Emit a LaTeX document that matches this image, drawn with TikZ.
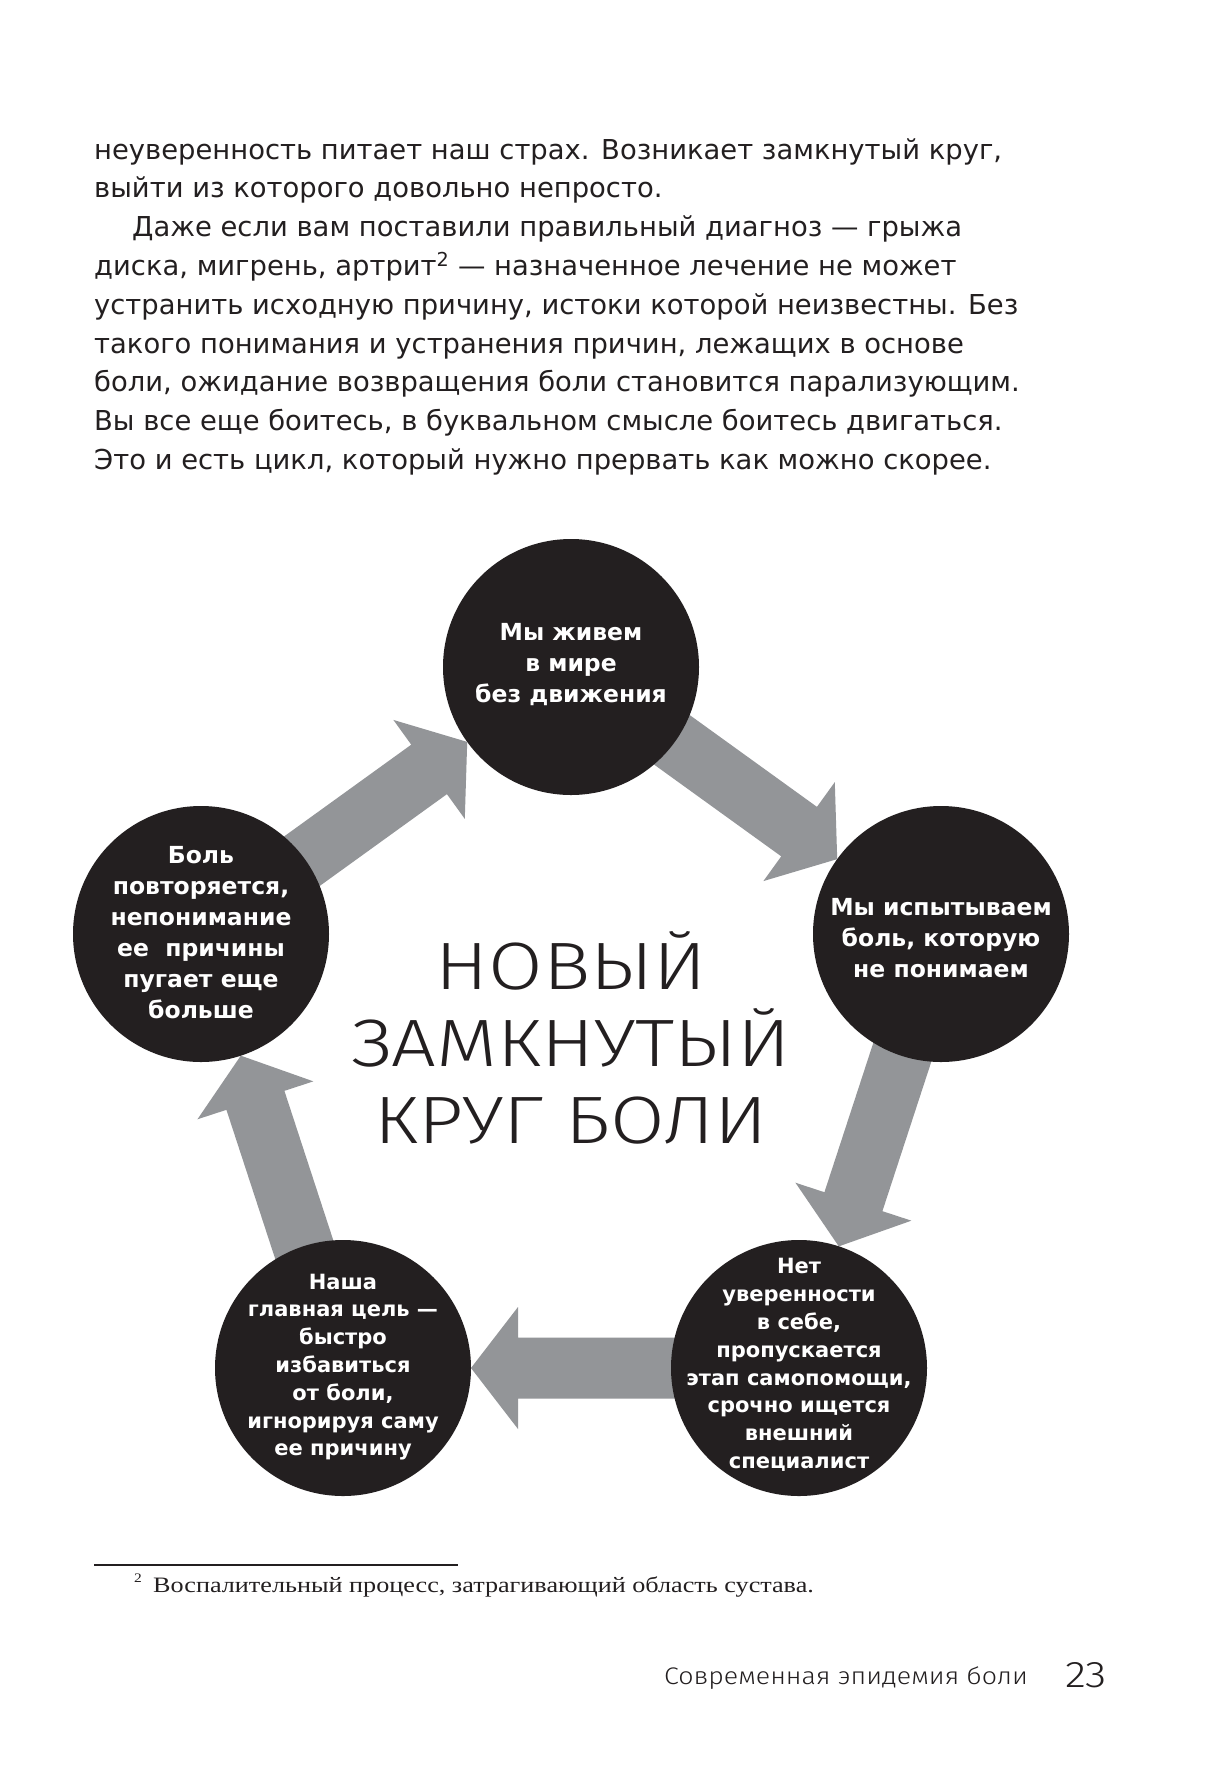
\documentclass[tikz,border=0pt]{standalone}
\usepackage{fontspec}
\setmainfont{DejaVu Sans}
\newfontfamily\bodyfont{DejaVu Sans}
\newfontfamily\circfont{DejaVu Sans}
\newfontfamily\lightfont{Fira Sans Light}[FakeStretch=1.18]
\newfontfamily\runfont{Fira Sans Light}[FakeStretch=1.115]
\newfontfamily\notefont{Liberation Serif}[FakeStretch=1.19]
\usetikzlibrary{calc,backgrounds}
\definecolor{arrowgray}{HTML}{939598}
\definecolor{inkblack}{HTML}{231F20}

\newcommand{\fatarrow}[2]{%
  \coordinate (tp) at ($(#2.center)!128pt!(#1.center)$);
  \coordinate (hb) at ($(#2.center)!175pt!(#1.center)$);
  \fill[arrowgray]
    ($(#1.center)!30.5pt!90:(#2.center)$) --
    ($(hb)!30.5pt!90:(#2.center)$) --
    ($(hb)!61pt!90:(#2.center)$) --
    (tp) --
    ($(hb)!61pt!-90:(#2.center)$) --
    ($(hb)!30.5pt!-90:(#2.center)$) --
    ($(#1.center)!30.5pt!-90:(#2.center)$) -- cycle;
}

\begin{document}
\begin{tikzpicture}[x=1pt,y=-1pt,
  bodyline/.style={anchor=base west, inner sep=0, text=inkblack,
    font=\bodyfont\fontsize{27.4}{30}\selectfont},
  disc/.style={circle, fill=inkblack, minimum size=256pt, inner sep=0, draw=none},
  disctext/.style={text=white, align=center, inner sep=0,
    font=\circfont\bfseries\fontsize{23.5}{31}\selectfont},
  smalldisctext/.style={text=white, align=center, inner sep=0,
    font=\circfont\bfseries\fontsize{21}{27.8}\selectfont},
  titleline/.style={anchor=base, inner sep=0, text=inkblack,
    font=\lightfont\fontsize{67}{77}\selectfont},
  footer/.style={anchor=base west, inner sep=0, text=inkblack},
]
\useasboundingbox (0,0) rectangle (1215,1781);

% body text
\node[bodyline] (l1) at (94,159) {неуверенность питает наш страх. Возникает замкнутый круг,};
\node[bodyline] (l2) at (94,197.8) {выйти из которого довольно непросто.};
\node[bodyline] (l3) at (132,236.6) {Даже если вам поставили правильный диагноз — грыжа};
\node[bodyline] (l4) at (94,275.4) {диска, мигрень, артрит\textsuperscript{2} — назначенное лечение не может};
\node[bodyline] (l5) at (94,314.2) {устранить исходную причину, истоки которой неизвестны. Без};
\node[bodyline] (l6) at (94,353) {такого понимания и устранения причин, лежащих в основе};
\node[bodyline] (l7) at (94,391.8) {боли, ожидание возвращения боли становится парализующим.};
\node[bodyline] (l8) at (94,430.6) {Вы все еще боитесь, в буквальном смысле боитесь двигаться.};
\node[bodyline] (l9) at (94,469.4) {Это и есть цикл, который нужно прервать как можно скорее.};

% circles
\node[disc] (top) at (571,667) {};
\node[disc] (right) at (941,934) {};
\node[disc] (bright) at (799,1368) {};
\node[disc] (bleft) at (343,1368) {};
\node[disc] (left) at (201,934) {};

\node[disctext] (top-t) at (571,665) {Мы живем\\в мире\\без движения};
\node[disctext] (right-t) at (941,938) {Мы испытываем\\боль, которую\\не понимаем};
\node[smalldisctext] (bright-t) at (799,1365) {Нет\\уверенности\\в себе,\\пропускается\\этап самопомощи,\\срочно ищется\\внешний\\специалист};
\node[smalldisctext] (bleft-t) at (343,1367) {Наша\\главная цель —\\быстро\\избавиться\\от боли,\\игнорируя саму\\ее причину};
\node[disctext] (left-t) at (201,933) {Боль\\повторяется,\\непонимание\\ее\ \ причины\\пугает еще\\больше};

% title
\node[titleline] (t1) at (571,989) {НОВЫЙ};
\node[titleline] (t2) at (571,1066) {ЗАМКНУТЫЙ};
\node[titleline] (t3) at (571,1143) {КРУГ БОЛИ};

% footnote
\coordinate (rule-a) at (94,1565);
\coordinate (rule-b) at (458,1565);
\draw[inkblack, line width=1.3pt] (rule-a) -- (rule-b);
\node[footer, font=\notefont\fontsize{13}{15}\selectfont] (fn-mark) at (134,1582) {2};
\node[footer, font=\notefont\fontsize{22}{25}\selectfont] (fn) at (153,1592) {Воспалительный процесс, затрагивающий область сустава.};

% page footer
\node[footer, font=\runfont\fontsize{24}{28}\selectfont] (run) at (664,1684) {Современная эпидемия боли};
\node[footer, font=\lightfont\fontsize{37}{40}\selectfont] (pg) at (1065,1687) {23};

% arrows under circles
\begin{pgfonlayer}{background}
  \fill[white] (0,0) rectangle (1215,1781);
  \fatarrow{left}{top}
  \fatarrow{top}{right}
  \fatarrow{right}{bright}
  \fatarrow{bright}{bleft}
  \fatarrow{bleft}{left}
\end{pgfonlayer}
\end{tikzpicture}
\end{document}
